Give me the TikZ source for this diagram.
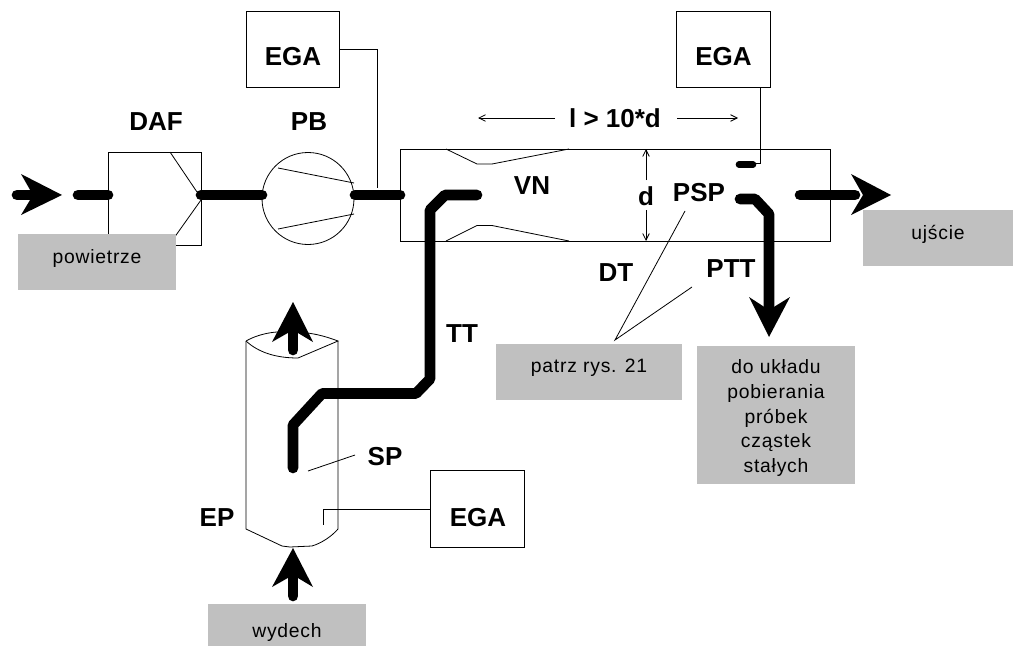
\documentclass[tikz,border=0pt]{standalone}
\usepackage{fontspec}
\setmainfont{Liberation Sans}
\newfontfamily\grayfont[LetterSpace=4]{Liberation Sans}
\usetikzlibrary{arrows.meta}
\definecolor{boxgray}{HTML}{C0C0C0}
\tikzset{
  lbl/.style={inner sep=0pt,font=\fontsize{19.5pt}{22pt}\selectfont\bfseries},
  graytxt/.style={inner sep=0pt,align=center,font=\fontsize{14.5pt}{18.7pt}\grayfont},
  graybox/.style={fill=boxgray,draw=none,inner sep=0pt},
  egabox/.style={draw=black,line width=0.6pt,fill=white,inner sep=0pt,minimum width=70pt,minimum height=57.5pt},
  thin line/.style={draw=black,line width=0.6pt},
  flow/.style={draw=black,line width=8pt,line cap=round,line join=bevel},
  head/.style={fill=black,draw=none},
  dim/.style={draw=black,line width=0.6pt,-{Straight Barb[length=5pt,width=5pt]}},
}
\begin{document}
\begin{tikzpicture}[x=0.75pt,y=-0.75pt]
\useasboundingbox (0,0) rectangle (1013,646);
% housing shapes
\node[draw=black,line width=0.6pt,inner sep=0pt,minimum width=69.75pt,minimum height=69.75pt] (daf) at (154.5,198.5) {};
\draw[thin line] (170,152) -- (197,192) (201,200) -- (174,238);
\node[draw=black,line width=0.6pt,circle,inner sep=0pt,minimum size=69pt] (pb) at (308,198.5) {};
\draw[thin line] (278,168) -- (354,183) (278,229) -- (354,214);
\node[draw=black,line width=0.6pt,inner sep=0pt,minimum width=322.5pt,minimum height=69pt] (dt) at (615,195) {};
\draw[thin line] (446,149) -- (477,164) -- (492,164) -- (569,149);
\draw[thin line] (446,241) -- (477,225.5) -- (492,225.5) -- (569,241);
% exhaust pipe
\draw[thin line] (246,341) -- (246,529) -- (282,546) -- (290,547) -- (312,546) .. controls (322,543) and (332,536) .. (338,529) -- (338,341);
\draw[thin line] (246,341) .. controls (262,332) and (280,331) .. (292,332) .. controls (310,332) and (325,336) .. (338,341) -- (298,358) .. controls (275,358) and (258,352) .. (246,341);
% gray boxes
\node[graybox,minimum width=118.5pt,minimum height=42pt] (air) at (97,262) {};
\node[graytxt] (airt) at (97,258) {powietrze};
\node[graybox,minimum width=112.5pt,minimum height=42pt] (out) at (938,238) {};
\node[graytxt] (outt) at (938,234) {ujście};
\node[graybox,minimum width=139.5pt,minimum height=42pt] (see) at (589,372) {};
\node[graytxt] (seet) at (589,368) {patrz rys. 21};
\node[graybox,minimum width=118.5pt,minimum height=103.5pt] (samp) at (776,415) {};
\node[graytxt] (sampt) at (776,418) {do układu\\pobierania\\próbek\\cząstek\\stałych};
\node[graybox,minimum width=118.5pt,minimum height=31.5pt] (exh) at (287,625) {};
\node[graytxt] (exht) at (287,632) {wydech};
% analysers
\node[egabox] (ega1) at (293,49.5) {};
\node[lbl] (ega1t) at (293,57) {EGA};
\node[egabox] (ega2) at (723.5,49.5) {};
\node[lbl] (ega2t) at (723.5,57) {EGA};
\node[egabox] (ega3) at (477.5,509) {};
\node[lbl] (ega3t) at (478,518) {EGA};
% sample lines
\coordinate (p1) at (377,188);
\coordinate (p2) at (760,163);
\coordinate (p3) at (323,525);
\draw[thin line] (ega1.east |- 0,49) -| (p1);
\draw[thin line] (760,88) -- (p2) -- (745,163);
\draw[thin line] (ega3.west) -- (323,509) -- (p3);
\draw[draw=black,line width=5pt,line cap=round] (739,164.5) -- (753,164.5);
% flows
\draw[flow] (17,195) -- (40,195);
\fill[head] (62,195) -- (21,174) -- (33,195) -- (21,215) -- cycle;
\draw[flow] (78,195) -- (108,195);
\draw[flow] (201,195) -- (262,195);
\draw[flow] (355,195) -- (400,195);
\draw[flow] (477,195) -- (445,195) -- (430,210) -- (430,379) -- (416,393.5) -- (322,393.5) -- (293,425) -- (293,468);
\draw[flow] (740,199) -- (755,199) -- (769,214) -- (769,310);
\fill[head] (769,337) -- (749,297) -- (769,310) -- (790,297) -- cycle;
\draw[flow] (800,195) -- (855,195);
\fill[head] (891,195) -- (851,174) -- (863,195) -- (851,215) -- cycle;
\draw[flow] (293,350) -- (293,325);
\fill[head] (293,302) -- (272,342) -- (293,330) -- (313,342) -- cycle;
\draw[flow] (293,596) -- (293,570);
\fill[head] (293,548) -- (272,587) -- (293,575) -- (313,587) -- cycle;
% labels
\node[lbl] (ldaf) at (156,122) {DAF};
\node[lbl] (lpb) at (309,122) {PB};
\node[lbl] (ldim) at (615,118) {l > 10*d};
\node[lbl] (lvn) at (532,186) {VN};
\node[lbl] (ld) at (646,196) {d};
\node[lbl] (lpsp) at (699,193) {PSP};
\node[lbl] (ldt) at (616,273) {DT};
\node[lbl] (lptt) at (731,269) {PTT};
\node[lbl] (ltt) at (462,334) {TT};
\node[lbl] (lsp) at (385,457) {SP};
\node[lbl] (lep) at (217,518) {EP};
% dimension arrows
\coordinate (lA) at (478,118); \coordinate (rA) at (738,118);
\draw[dim] (555,118) -- (lA);
\draw[dim] (677,118) -- (rA);
\draw[dim] (ld.center |- 0,180) -- (646,149);
\draw[dim] (ld.center |- 0,210) -- (646,241);
% leaders
\coordinate (conv) at (615,340);
\draw[thin line] (685,211) -- (conv) -- (692,287);
\draw[thin line] (308,471) -- (355,455);
\end{tikzpicture}
\end{document}
